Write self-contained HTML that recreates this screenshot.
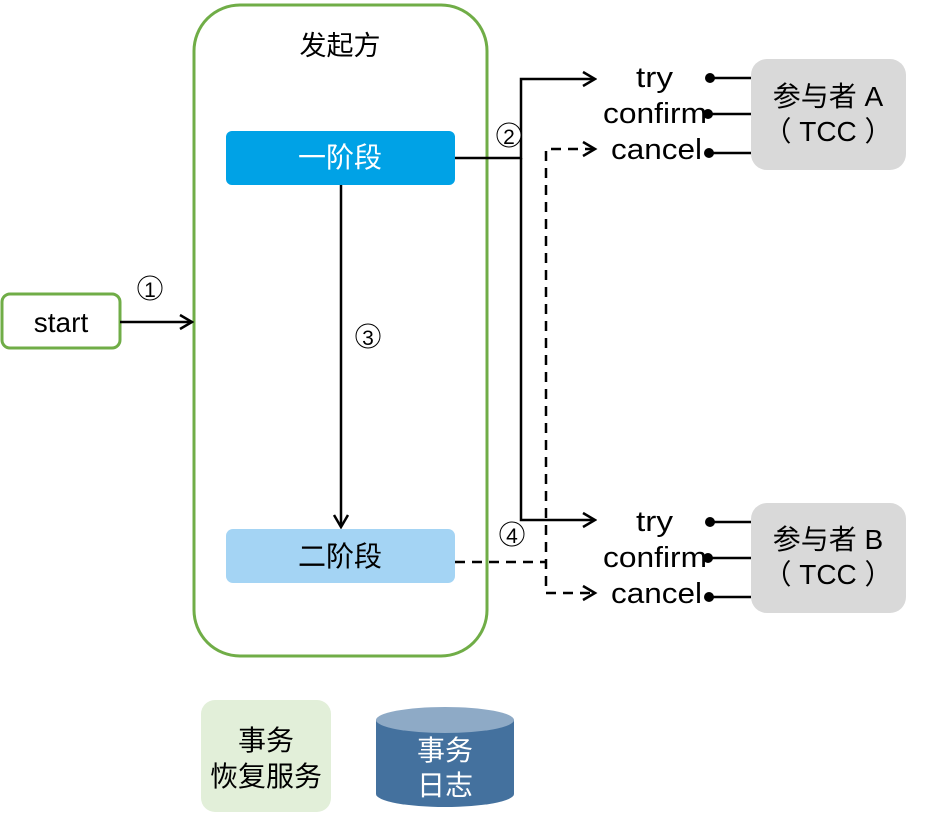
<!DOCTYPE html>
<html><head><meta charset="utf-8"><style>
html,body{margin:0;padding:0;background:#fff;}
svg{display:block;}
text{font-family:"Liberation Sans","Noto Sans CJK SC",sans-serif;}
</style></head><body>
<svg width="942" height="822" viewBox="0 0 942 822" xmlns="http://www.w3.org/2000/svg">
<defs>
<marker id="a" markerWidth="16" markerHeight="18" refX="14" refY="9" orient="auto" markerUnits="userSpaceOnUse">
<path d="M2,2 L14,9 L2,16" fill="none" stroke="#000" stroke-width="2.5"/>
</marker>
</defs>
<rect x="194" y="5" width="293" height="651" rx="46" fill="#fff" stroke="#70ad47" stroke-width="3"/>
<text x="340" y="55" font-size="27" text-anchor="middle">发起方</text>
<rect x="226" y="131" width="229" height="54" rx="6" fill="#00a2e6"/>
<text x="340" y="167" font-size="28" fill="#fff" text-anchor="middle">一阶段</text>
<rect x="226" y="529" width="229" height="54" rx="7" fill="#a4d4f4"/>
<text x="340" y="566" font-size="28" text-anchor="middle">二阶段</text>
<rect x="2" y="294" width="118" height="54" rx="8" fill="#fff" stroke="#70ad47" stroke-width="3"/>
<text x="61" y="332" font-size="28" text-anchor="middle">start</text>
<line x1="120" y1="322" x2="192" y2="322" stroke="#000" stroke-width="2.5" marker-end="url(#a)"/>
<line x1="341" y1="185" x2="341" y2="527" stroke="#000" stroke-width="2.5" marker-end="url(#a)"/>
<polyline points="455,158 521,158 521,79 595,79" fill="none" stroke="#000" stroke-width="2.5" marker-end="url(#a)"/>
<polyline points="521,158 521,520 595,520" fill="none" stroke="#000" stroke-width="2.5" marker-end="url(#a)"/>
<g fill="none" stroke="#000" stroke-width="2.5" stroke-dasharray="10,7">
<line x1="455" y1="562" x2="546" y2="562"/>
<polyline points="595,149 546,149 546,593 595,593"/>
</g>
<path d="M583,142 L595,149 L583,156" fill="none" stroke="#000" stroke-width="2.5"/>
<path d="M583,586 L595,593 L583,600" fill="none" stroke="#000" stroke-width="2.5"/>
<g text-anchor="middle">
<circle cx="150" cy="288" r="12" fill="none" stroke="#000" stroke-width="1"/><text x="150" y="297" font-size="21">1</text>
<circle cx="509" cy="135" r="12" fill="#fff" stroke="#000" stroke-width="1"/><text x="509" y="144" font-size="21">2</text>
<circle cx="368" cy="336" r="12" fill="none" stroke="#000" stroke-width="1"/><text x="368" y="345" font-size="21">3</text>
<circle cx="512" cy="534" r="12" fill="#fff" stroke="#000" stroke-width="1"/><text x="512" y="543" font-size="21">4</text>
</g>
<g font-size="29">
<text x="636" y="87" textLength="37" lengthAdjust="spacingAndGlyphs">try</text>
<text x="603" y="123" textLength="104" lengthAdjust="spacingAndGlyphs">confirm</text>
<text x="611" y="159" textLength="91" lengthAdjust="spacingAndGlyphs">cancel</text>
<text x="636" y="531" textLength="37" lengthAdjust="spacingAndGlyphs">try</text>
<text x="603" y="567" textLength="104" lengthAdjust="spacingAndGlyphs">confirm</text>
<text x="611" y="603" textLength="91" lengthAdjust="spacingAndGlyphs">cancel</text>
</g>
<g stroke="#000" stroke-width="2.5">
<line x1="710" y1="78" x2="751" y2="78"/><line x1="708" y1="114" x2="751" y2="114"/><line x1="709" y1="153" x2="751" y2="153"/>
<line x1="710" y1="522" x2="751" y2="522"/><line x1="708" y1="558" x2="751" y2="558"/><line x1="709" y1="597" x2="751" y2="597"/>
</g>
<g fill="#000">
<circle cx="710" cy="78" r="5"/><circle cx="708" cy="114" r="5"/><circle cx="709" cy="153" r="5"/>
<circle cx="710" cy="522" r="5"/><circle cx="708" cy="558" r="5"/><circle cx="709" cy="597" r="5"/>
</g>
<rect x="751" y="59" width="155" height="111" rx="16" fill="#d9d9d9"/>
<text x="828" y="106" font-size="28" text-anchor="middle">参与者 A</text>
<text x="828" y="141" font-size="28" text-anchor="middle">（ TCC ）</text>
<rect x="751" y="503" width="155" height="110" rx="16" fill="#d9d9d9"/>
<text x="828" y="549" font-size="28" text-anchor="middle">参与者 B</text>
<text x="828" y="584" font-size="28" text-anchor="middle">（ TCC ）</text>
<rect x="201" y="700" width="130" height="112" rx="14" fill="#e2efd9"/>
<text x="266" y="750" font-size="28" text-anchor="middle">事务</text>
<text x="266" y="786" font-size="28" text-anchor="middle">恢复服务</text>
<path d="M376,720 L376,794 A69,13 0 0 0 514,794 L514,720 Z" fill="#44719e"/>
<ellipse cx="445" cy="720" rx="69" ry="13" fill="#8eaac6"/>
<text x="445" y="760" font-size="28" fill="#fff" text-anchor="middle">事务</text>
<text x="445" y="795" font-size="28" fill="#fff" text-anchor="middle">日志</text>
</svg>
</body></html>
